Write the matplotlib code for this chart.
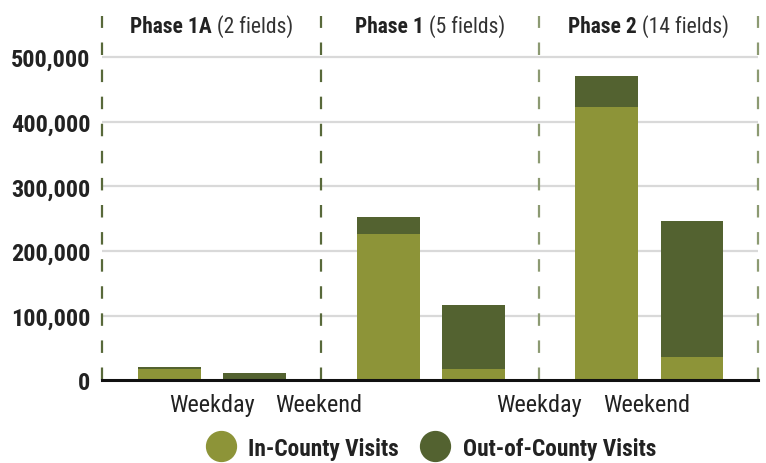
import matplotlib
matplotlib.use("Agg")
import matplotlib.pyplot as plt
from matplotlib.lines import Line2D

plt.rcParams['font.family'] = ['Roboto Condensed', 'Liberation Sans Narrow', 'DejaVu Sans']
plt.rcParams['lines.scale_dashes'] = False

# ---- data ----
phases = ["Phase 1A", "Phase 1", "Phase 2"]
phase_fields = ["(2 fields)", "(5 fields)", "(14 fields)"]
day_types = ["Weekday", "Weekend"]
in_county_weekday = [17500, 227000, 422000]
in_county_weekend = [0, 18000, 36000]
out_county_weekday = [3000, 26000, 48000]
out_county_weekend = [11500, 98000, 211000]
xtick_labels = ["Weekday", "Weekend", "Weekday", "Weekend"]
ytick_values = [0, 100000, 200000, 300000, 400000, 500000]
legend_labels = ["In-County Visits", "Out-of-County Visits"]

IN_COLOR = "#8d9438"
OUT_COLOR = "#536230"
W, H = 766, 464

fig = plt.figure(figsize=(W / 100, H / 100), dpi=100)
ax = fig.add_axes([0.1332, 0.1782, 0.9896 - 0.1332, 0.9627 - 0.1782])

offsets = [0.309, 0.698]
width = 0.288
in_series = [in_county_weekday, in_county_weekend]
out_series = [out_county_weekday, out_county_weekend]
for j in range(2):
    xs = [i + offsets[j] for i in range(len(phases))]
    ax.bar(xs, in_series[j], width=width, color=IN_COLOR, zorder=3)
    ax.bar(xs, out_series[j], width=width, bottom=in_series[j], color=OUT_COLOR, zorder=3)

ax.set_xlim(0, 3)
ax.set_ylim(0, 563000)

# grid
for v in ytick_values[1:]:
    ax.axhline(v, color="#d9d9d9", lw=1.6, zorder=1)

# phase separators
sep_colors = ["#58693a", "#58693a", "#8c9a72", "#8c9a72"]
for k in range(len(phases) + 1):
    ax.axvline(k, color=sep_colors[k], lw=1.6, dashes=(9, 10.5), zorder=2, clip_on=False)

ax.axhline(0, color="#111111", lw=2.2, zorder=4, clip_on=False)

for s in ax.spines.values():
    s.set_visible(False)

ax.set_yticks(ytick_values)
ax.set_yticklabels([f"{v:,}" for v in ytick_values], fontsize=17.5, fontweight="bold", color="#222222")
ax.tick_params(axis="y", length=0, pad=8.5)

xtick_pos = [0.503, 0.99, 1.998, 2.49]
ax.set_xticks(xtick_pos)
ax.set_xticklabels(xtick_labels, fontsize=17.5, color="#222222")
ax.tick_params(axis="x", length=0, pad=9)

# phase headers
fig.canvas.draw()
renderer = fig.canvas.get_renderer()
inv = ax.transData.inverted()
for i, (p, f) in enumerate(zip(phases, phase_fields)):
    t1 = ax.text(0, 539000, p, fontsize=15.5, fontweight="bold", color="#222222", va="baseline", ha="left")
    t2 = ax.text(0, 539000, " " + f, fontsize=15.5, color="#333333", va="baseline", ha="left")
    w1 = t1.get_window_extent(renderer).width
    w2 = t2.get_window_extent(renderer).width
    cx = ax.transData.transform((i + 0.5, 0))[0]
    x1 = cx - (w1 + w2) / 2
    t1.set_x(inv.transform((x1, 0))[0])
    t2.set_x(inv.transform((x1 + w1, 0))[0])

# legend (manual, figure coords)
leg_y = (H - 447) / H
circle_x = [221, 435]
text_x = [248, 463]
for cxp, txp, lab, col in zip(circle_x, text_x, legend_labels, [IN_COLOR, OUT_COLOR]):
    fig.add_artist(Line2D([cxp / W], [leg_y], marker="o", markersize=21.5, color=col, ls=""))
    fig.text(txp / W, leg_y, lab, fontsize=16.8, fontweight="bold", color="#222222",
             va="center_baseline", ha="left")

fig.savefig("out.png", dpi=100)
